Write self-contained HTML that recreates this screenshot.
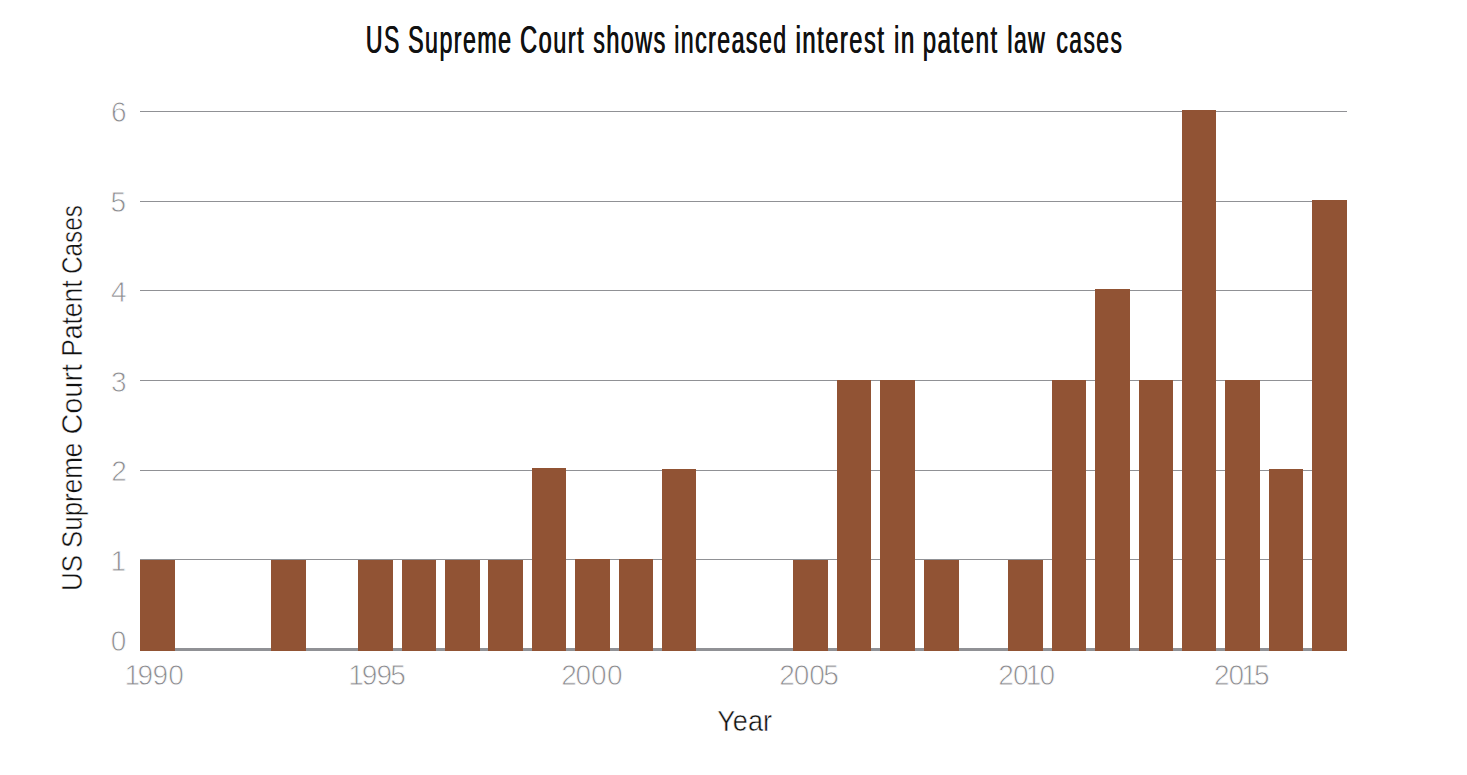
<!DOCTYPE html>
<html lang="en"><head><meta charset="utf-8"><title>US Supreme Court shows increased interest in patent law cases</title>
<style>html,body{margin:0;padding:0;background:#fff;}body{width:1467px;height:775px;overflow:hidden;}svg{display:block;}text{font-family:"Liberation Sans",sans-serif;}</style></head><body>
<svg width="1467" height="775" viewBox="0 0 1467 775">
<rect width="1467" height="775" fill="#fff"/>
<g shape-rendering="crispEdges" fill="#909195">
<rect x="140" y="111" width="1207" height="1"/>
<rect x="140" y="201" width="1207" height="1"/>
<rect x="140" y="290" width="1207" height="1"/>
<rect x="140" y="380" width="1207" height="1"/>
<rect x="140" y="470" width="1207" height="1"/>
<rect x="140" y="559" width="1207" height="1"/>
<rect x="140" y="648" width="1207" height="3"/>
</g>
<g shape-rendering="crispEdges" fill="#915334">
<rect x="140" y="560" width="35" height="91"/>
<rect x="271" y="560" width="35" height="91"/>
<rect x="358" y="560" width="35" height="91"/>
<rect x="402" y="560" width="34" height="91"/>
<rect x="445" y="560" width="35" height="91"/>
<rect x="488" y="560" width="35" height="91"/>
<rect x="532" y="468" width="34" height="183"/>
<rect x="575" y="559" width="35" height="92"/>
<rect x="619" y="559" width="34" height="92"/>
<rect x="662" y="469" width="34" height="182"/>
<rect x="793" y="560" width="35" height="91"/>
<rect x="837" y="380" width="34" height="271"/>
<rect x="880" y="380" width="35" height="271"/>
<rect x="924" y="560" width="35" height="91"/>
<rect x="1008" y="560" width="35" height="91"/>
<rect x="1052" y="380" width="34" height="271"/>
<rect x="1095" y="289" width="35" height="362"/>
<rect x="1139" y="380" width="34" height="271"/>
<rect x="1182" y="110" width="34" height="541"/>
<rect x="1225" y="380" width="35" height="271"/>
<rect x="1269" y="469" width="34" height="182"/>
<rect x="1312" y="200" width="35" height="451"/>
</g>
<g font-size="29.5" fill="#8c8c90" stroke="#fff" stroke-width="0.8">
<text transform="translate(110.81,651.1) scale(0.9500,1)">0</text>
<text transform="translate(110.44,571.0) scale(0.9500,1)">1</text>
<text transform="translate(111.21,481.1) scale(0.9500,1)">2</text>
<text transform="translate(111.03,391.9) scale(0.9500,1)">3</text>
<text transform="translate(110.93,302.0) scale(0.9500,1)">4</text>
<text transform="translate(110.51,212.1) scale(0.9500,1)">5</text>
<text transform="translate(111.06,122.0) scale(0.9500,1)">6</text>
</g>
<g font-size="29.5" fill="#8c8c90" stroke="#fff" stroke-width="0.8">
<text transform="translate(0,685.1) scale(0.9500,1)" x="131.09 144.80 160.54 177.12">1990</text>
<text transform="translate(0,685.1) scale(0.9500,1)" x="366.72 380.70 396.43 410.80">1995</text>
<text transform="translate(0,685.1) scale(0.9500,1)" x="590.70 605.75 622.22 638.91">2000</text>
<text transform="translate(0,685.1) scale(0.9500,1)" x="820.17 835.54 851.75 866.64">2005</text>
<text transform="translate(0,685.1) scale(0.9500,1)" x="1050.91 1066.28 1079.78 1094.33">2010</text>
<text transform="translate(0,685.1) scale(0.9500,1)" x="1278.01 1293.07 1306.67 1320.12">2015</text>
</g>
<g font-size="29.5" fill="#111" stroke="#fff" stroke-width="0.5">
<text transform="translate(717.31,731.1) scale(0.9162,1)">Year</text>
<text transform="translate(82.40,591.08) rotate(-90) scale(0.8800,1)">US</text>
<text transform="translate(82.40,548.02) rotate(-90) scale(0.8795,1)">Supreme</text>
<text transform="translate(82.40,434.47) rotate(-90) scale(0.9773,1)">Court</text>
<text transform="translate(82.40,356.84) rotate(-90) scale(0.8970,1)">Patent</text>
<text transform="translate(82.40,274.04) rotate(-90) scale(0.8235,1)">Cases</text>
</g>
<g font-size="38" fill="#111" letter-spacing="2.4">
<text transform="translate(365.58,52.6) scale(0.6059,1)">US</text>
<text transform="translate(366.18,52.6) scale(0.6059,1)">US</text>
<text transform="translate(407.83,52.6) scale(0.6106,1)">Supreme</text>
<text transform="translate(408.43,52.6) scale(0.6106,1)">Supreme</text>
<text transform="translate(519.86,52.6) scale(0.6195,1)">Court</text>
<text transform="translate(520.46,52.6) scale(0.6195,1)">Court</text>
<text transform="translate(592.89,52.6) scale(0.6148,1)">shows</text>
<text transform="translate(593.49,52.6) scale(0.6148,1)">shows</text>
<text transform="translate(673.88,52.6) scale(0.6089,1)">increased</text>
<text transform="translate(674.48,52.6) scale(0.6089,1)">increased</text>
<text transform="translate(795.34,52.6) scale(0.6249,1)">interest</text>
<text transform="translate(795.94,52.6) scale(0.6249,1)">interest</text>
<text transform="translate(893.72,52.6) scale(0.6333,1)">in</text>
<text transform="translate(894.32,52.6) scale(0.6333,1)">in</text>
<text transform="translate(922.42,52.6) scale(0.6336,1)">patent</text>
<text transform="translate(923.02,52.6) scale(0.6336,1)">patent</text>
<text transform="translate(1007.09,52.6) scale(0.6042,1)">law</text>
<text transform="translate(1007.69,52.6) scale(0.6042,1)">law</text>
<text transform="translate(1056.10,52.6) scale(0.6019,1)">cases</text>
<text transform="translate(1056.70,52.6) scale(0.6019,1)">cases</text>
</g>
</svg></body></html>
